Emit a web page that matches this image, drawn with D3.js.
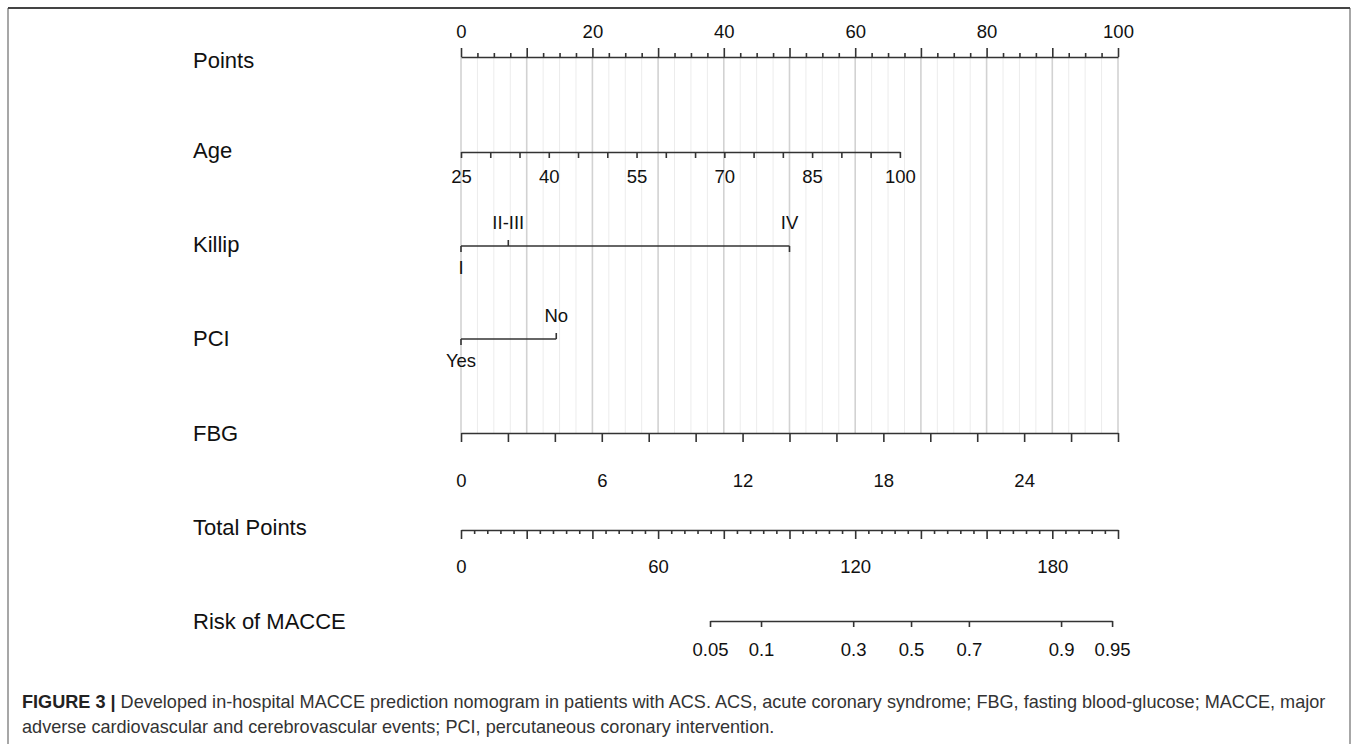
<!DOCTYPE html>
<html>
<head>
<meta charset="utf-8">
<script src="https://cdnjs.cloudflare.com/ajax/libs/d3/7.8.5/d3.min.js"></script>
<style>
  html, body { margin: 0; padding: 0; background: #fff; }
  svg { display: block; }
  .lbl { font-family: "Liberation Sans", Arial, sans-serif; fill: #111; }
  .axis path, .axis line { stroke: #333; stroke-width: 1.6; }
  .axis text { font-family: "Liberation Sans", Arial, sans-serif; font-size: 18.5px; fill: #111; }
</style>
</head>
<body>
<script>
// nomogram values
var pointsTicks = [0, 2.5, 5, 7.5, 10, 12.5, 15, 17.5, 20, 22.5, 25, 27.5, 30, 32.5, 35, 37.5, 40, 42.5, 45, 47.5, 50,
	52.5, 55, 57.5, 60, 62.5, 65, 67.5, 70, 72.5, 75, 77.5, 80, 82.5, 85, 87.5, 90, 92.5, 95, 97.5, 100];
var pointsMajor = [0, 10, 20, 30, 40, 50, 60, 70, 80, 90, 100];
var pointsLabels = [0, 20, 40, 60, 80, 100];

var ageTicks = [25, 30, 35, 40, 45, 50, 55, 60, 65, 70, 75, 80, 85, 90, 95, 100];
var ageLabels = [25, 40, 55, 70, 85, 100];
var ageMaxPoints = 66.8;

var killipLevels = ['I', 'II-III', 'IV'];
var killipPoints = [0, 7.2, 50];

var pciLevels = ['Yes', 'No'];
var pciPoints = [0, 14.5];

var fbgTicks = [0, 2, 4, 6, 8, 10, 12, 14, 16, 18, 20, 22, 24, 26, 28];
var fbgLabels = [0, 6, 12, 18, 24];

var totalTicks = [0, 4, 8, 12, 16, 20, 24, 28, 32, 36, 40, 44, 48, 52, 56, 60, 64, 68, 72, 76, 80, 84, 88, 92, 96, 100,
	104, 108, 112, 116, 120, 124, 128, 132, 136, 140, 144, 148, 152, 156, 160, 164, 168, 172, 176, 180, 184, 188, 192, 196, 200];
var totalMajor = [0, 20, 40, 60, 80, 100, 120, 140, 160, 180, 200];
var totalLabels = [0, 60, 120, 180];

var riskTicks = [0.05, 0.1, 0.3, 0.5, 0.7, 0.9, 0.95];
var riskTotalAt = [75.8, 198.2]; // total points at risk 0.05 and 0.95

var rowNames = ['Points', 'Age', 'Killip', 'PCI', 'FBG', 'Total Points', 'Risk of MACCE'];

var captionBold = 'FIGURE 3 |';
var captionLine1 = ' Developed in-hospital MACCE prediction nomogram in patients with ACS. ACS, acute coronary syndrome; FBG, fasting blood-glucose; MACCE, major';
var captionLine2 = 'adverse cardiovascular and cerebrovascular events; PCI, percutaneous coronary intervention.';

var W = 1358, H = 744;
var rowY = [57, 152, 246, 339, 433, 530, 621];

var svg = d3.select('body').append('svg').attr('width', W).attr('height', H);

// frame
svg.append('line').attr('x1', 8).attr('x2', 8).attr('y1', 8).attr('y2', H)
	.attr('stroke', '#8a8a8a').attr('stroke-width', 1.5);
svg.append('line').attr('x1', 1350).attr('x2', 1350).attr('y1', 8).attr('y2', H)
	.attr('stroke', '#8a8a8a').attr('stroke-width', 1.5);
svg.append('line').attr('x1', 8).attr('x2', 1350).attr('y1', 8).attr('y2', 8)
	.attr('stroke', '#444').attr('stroke-width', 2);

var xPts = d3.scaleLinear().domain([0, 100]).range([461, 1118]);
var xTot = d3.scaleLinear().domain([0, 200]).range([461, 1118]);
var xAge = d3.scaleLinear().domain([25, 100]).range([xPts(0), xPts(ageMaxPoints)]);
var xFbg = d3.scaleLinear().domain([0, 28]).range([xPts(0), xPts(100)]);
var logit = function(p) { return Math.log(p / (1 - p)); };
var xRisk = d3.scaleLinear()
	.domain([logit(riskTicks[0]), logit(riskTicks[riskTicks.length - 1])])
	.range([xTot(riskTotalAt[0]), xTot(riskTotalAt[1])]);

// grid
svg.append('g').selectAll('line')
	.data(pointsTicks)
	.enter()
	.append('line')
	.attr('x1', function(d) { return xPts(d); })
	.attr('x2', function(d) { return xPts(d); })
	.attr('y1', rowY[0])
	.attr('y2', rowY[4])
	.attr('stroke', function(d) { return pointsMajor.indexOf(d) >= 0 ? '#d2d2d2' : '#ececec'; })
	.attr('stroke-width', function(d) { return pointsMajor.indexOf(d) >= 0 ? 1.6 : 1; });

// row labels
svg.append('g').selectAll('text')
	.data(rowNames)
	.enter()
	.append('text')
	.attr('class', 'lbl')
	.attr('x', 193)
	.attr('y', function(d, i) { return rowY[i] + [3, -2, -2, -1, 0, -3, 0][i]; })
	.attr('dy', '0.35em')
	.style('font-size', '22px')
	.text(function(d) { return d; });

function fmtFrom(list) {
	return function(d) { return list.indexOf(d) >= 0 ? String(d) : ''; };
}
function sizeTicks(g, major, big, small) {
	g.selectAll('.tick line').attr('y2', function(d) {
		var s = major.indexOf(d) >= 0 ? big : small;
		return d3.select(this).attr('y2') < 0 ? -s : s;
	});
}

// Points
var gPts = svg.append('g').attr('class', 'axis').attr('transform', 'translate(0,' + rowY[0] + ')')
	.call(d3.axisTop(xPts).tickValues(pointsTicks).tickFormat(fmtFrom(pointsLabels)).tickSizeOuter(0).tickPadding(13));
sizeTicks(gPts, pointsMajor, 9, 4);

// Age
svg.append('g').attr('class', 'axis').attr('transform', 'translate(0,' + rowY[1] + ')')
	.call(d3.axisBottom(xAge).tickValues(ageTicks).tickFormat(fmtFrom(ageLabels)).tickSize(6).tickSizeOuter(0).tickPadding(12));

// categorical rows
function catRow(y, levels, pts, sides, tickDirs) {
	var g = svg.append('g').attr('class', 'axis');
	g.append('line')
		.attr('x1', xPts(d3.min(pts))).attr('x2', xPts(d3.max(pts)))
		.attr('y1', y).attr('y2', y);
	g.selectAll('line.tk')
		.data(levels)
		.enter()
		.append('line')
		.attr('class', 'tk')
		.attr('x1', function(d, i) { return xPts(pts[i]); })
		.attr('x2', function(d, i) { return xPts(pts[i]); })
		.attr('y1', y)
		.attr('y2', function(d, i) { return y + tickDirs[i] * 6; });
	g.selectAll('text')
		.data(levels)
		.enter()
		.append('text')
		.attr('x', function(d, i) { return xPts(pts[i]); })
		.attr('y', function(d, i) { return sides[i] < 0 ? y - 23 : y + 22; })
		.attr('dy', '0.35em')
		.attr('text-anchor', 'middle')
		.text(function(d) { return d; });
}
catRow(rowY[2], killipLevels, killipPoints, [1, -1, -1], [1, -1, 1]);
catRow(rowY[3], pciLevels, pciPoints, [1, -1], [1, -1]);

// FBG
svg.append('g').attr('class', 'axis').attr('transform', 'translate(0,' + rowY[4] + ')')
	.call(d3.axisBottom(xFbg).tickValues(fbgTicks).tickFormat(fmtFrom(fbgLabels)).tickSize(9).tickSizeOuter(0).tickPadding(32));

// Total points
var gTot = svg.append('g').attr('class', 'axis').attr('transform', 'translate(0,' + rowY[5] + ')')
	.call(d3.axisBottom(xTot).tickValues(totalTicks).tickFormat(fmtFrom(totalLabels)).tickSizeOuter(0).tickPadding(24));
sizeTicks(gTot, totalMajor, 9, 4);

// Risk
var riskLabel = {};
riskTicks.forEach(function(p) { riskLabel[logit(p)] = String(p); });
svg.append('g').attr('class', 'axis').attr('transform', 'translate(0,' + rowY[6] + ')')
	.call(d3.axisBottom(xRisk).tickValues(riskTicks.map(logit))
		.tickFormat(function(d) { return riskLabel[d]; }).tickSize(6).tickSizeOuter(0).tickPadding(16));

// caption
var cap = svg.append('g').style('font-family', '"Liberation Sans", Arial, sans-serif').style('font-size', '18.1px');
var t1 = cap.append('text').attr('x', 22).attr('y', 708).attr('fill', '#333');
t1.append('tspan').attr('font-weight', 'bold').attr('fill', '#222').text(captionBold);
t1.append('tspan').text(captionLine1);
cap.append('text').attr('x', 22).attr('y', 733).attr('fill', '#333').text(captionLine2);
</script>
</body>
</html>
